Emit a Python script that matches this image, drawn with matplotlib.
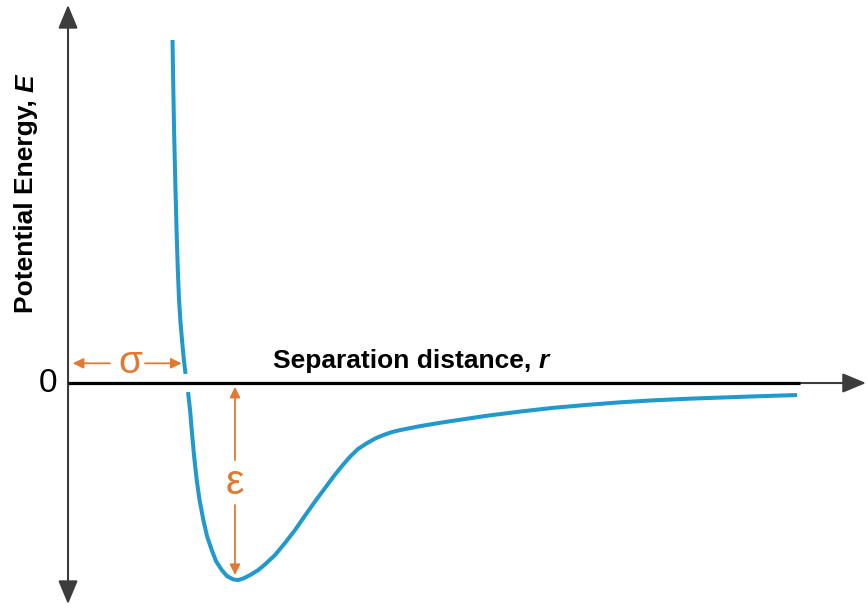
import matplotlib
matplotlib.use("Agg")
import matplotlib.pyplot as plt

plt.rcParams['font.family'] = ['Liberation Sans', 'DejaVu Sans']

# potential curve, split where it passes through E = 0
r_repulsive = [0.882, 0.888, 0.895, 0.905, 0.916, 0.926, 0.937, 0.949, 0.962, 0.976, 0.992]
E_repulsive = [1.741, 1.513, 1.284, 1.030, 0.777, 0.584, 0.421, 0.310, 0.218, 0.127, 0.046]

r_well = [1.013, 1.030, 1.044, 1.063, 1.086, 1.110, 1.142, 1.173, 1.213, 1.249,
          1.297, 1.342, 1.395, 1.435, 1.479, 1.536, 1.606, 1.671, 1.747, 1.831,
          1.916, 2.000, 2.093, 2.169, 2.239, 2.312, 2.380, 2.447, 2.521, 2.591,
          2.661, 2.734, 2.802, 2.970, 3.139, 3.325, 3.536, 3.814, 4.093, 4.380,
          4.658, 4.937, 5.224, 5.502, 5.781, 6.152]
E_well = [-0.046, -0.137, -0.239, -0.365, -0.492, -0.594, -0.695, -0.777, -0.848, -0.904,
          -0.949, -0.980, -0.997, -1.000, -0.992, -0.975, -0.949, -0.916, -0.873, -0.812,
          -0.746, -0.673, -0.594, -0.533, -0.476, -0.421, -0.374, -0.335, -0.306, -0.282,
          -0.264, -0.249, -0.239, -0.219, -0.202, -0.185, -0.166, -0.145, -0.126, -0.111,
          -0.098, -0.088, -0.080, -0.074, -0.068, -0.061]

sigma = 1.0        # zero crossing
epsilon = 1.0      # well depth
r_min = 1.409      # position of the minimum

xlabel_text = 'Separation distance, '
xlabel_var = 'r'
ylabel_text = 'Potential Energy, '
ylabel_var = 'E'

blue = '#2199cc'
orange = '#e07a33'
axis_grey = '#3c3c3c'

fig = plt.figure(figsize=(8.68, 6.09), dpi=100)
ax = fig.add_axes([0, 0, 1, 1])
ax.set_xlim(-0.574, 6.751)
ax.set_ylim(-1.147, 1.944)
ax.axis('off')

# axes with arrow heads
ax.annotate('', xy=(0, 1.919), xytext=(0, -1.122),
            arrowprops=dict(arrowstyle='<|-|>,head_length=0.6,head_width=0.25',
                            mutation_scale=24, color=axis_grey, lw=1.5,
                            shrinkA=0, shrinkB=0))
ax.annotate('', xy=(6.734, 0), xytext=(0, 0),
            arrowprops=dict(arrowstyle='-|>,head_length=0.6,head_width=0.25',
                            mutation_scale=24, color=axis_grey, lw=1.5,
                            shrinkA=0, shrinkB=0))
ax.plot([0, 6.177], [0, 0], color='black', lw=2.3, solid_capstyle='butt', zorder=3)

ax.plot(r_repulsive, E_repulsive, color=blue, lw=2.9, solid_capstyle='butt',
        solid_joinstyle='round', zorder=4)
ax.plot(r_well, E_well, color=blue, lw=2.9, solid_capstyle='butt',
        solid_joinstyle='round', zorder=4)

ax.text(-0.093, 0, '0', fontsize=24, ha='right', va='center')

# sigma marker
small_arrow = dict(arrowstyle='-|>,head_length=0.45,head_width=0.22', mutation_scale=14,
                   color=orange, lw=1.3, shrinkA=0, shrinkB=0)
y_sig = 0.10
ax.annotate('', xy=(0.04, y_sig), xytext=(0.354, y_sig), arrowprops=small_arrow)
ax.annotate('', xy=(sigma - 0.041, y_sig), xytext=(0.650, y_sig), arrowprops=small_arrow)
ax.text(0.523, y_sig, 'σ', fontsize=28, color=orange, ha='center', va='center')

# epsilon marker
ax.annotate('', xy=(r_min, -0.019), xytext=(r_min, -0.391), arrowprops=small_arrow)
ax.annotate('', xy=(r_min, -0.975 * epsilon), xytext=(r_min, -0.619), arrowprops=small_arrow)
ax.text(r_min, -0.505, 'ε', fontsize=30, color=orange, ha='center', va='center')

# axis titles: plain bold part followed by bold italic variable
xt = ax.text(1.730, 0.076, xlabel_text, fontsize=19, fontweight='bold',
             ha='left', va='baseline')
yt = ax.text(-0.295, 0.355, ylabel_text, fontsize=19, fontweight='bold',
             rotation=90, rotation_mode='anchor', ha='left', va='baseline')
fig.canvas.draw()
inv = ax.transData.inverted()
xb = xt.get_window_extent()
x_end = inv.transform((xb.x1, xb.y0))[0]
ax.text(x_end, 0.076, xlabel_var, fontsize=19, fontweight='bold', fontstyle='italic',
        ha='left', va='baseline')
yb = yt.get_window_extent()
y_end = inv.transform((yb.x0, yb.y1))[1]
ax.text(-0.295, y_end, ylabel_var, fontsize=19, fontweight='bold', fontstyle='italic',
        rotation=90, rotation_mode='anchor', ha='left', va='baseline')

fig.savefig('out.png', dpi=100)
